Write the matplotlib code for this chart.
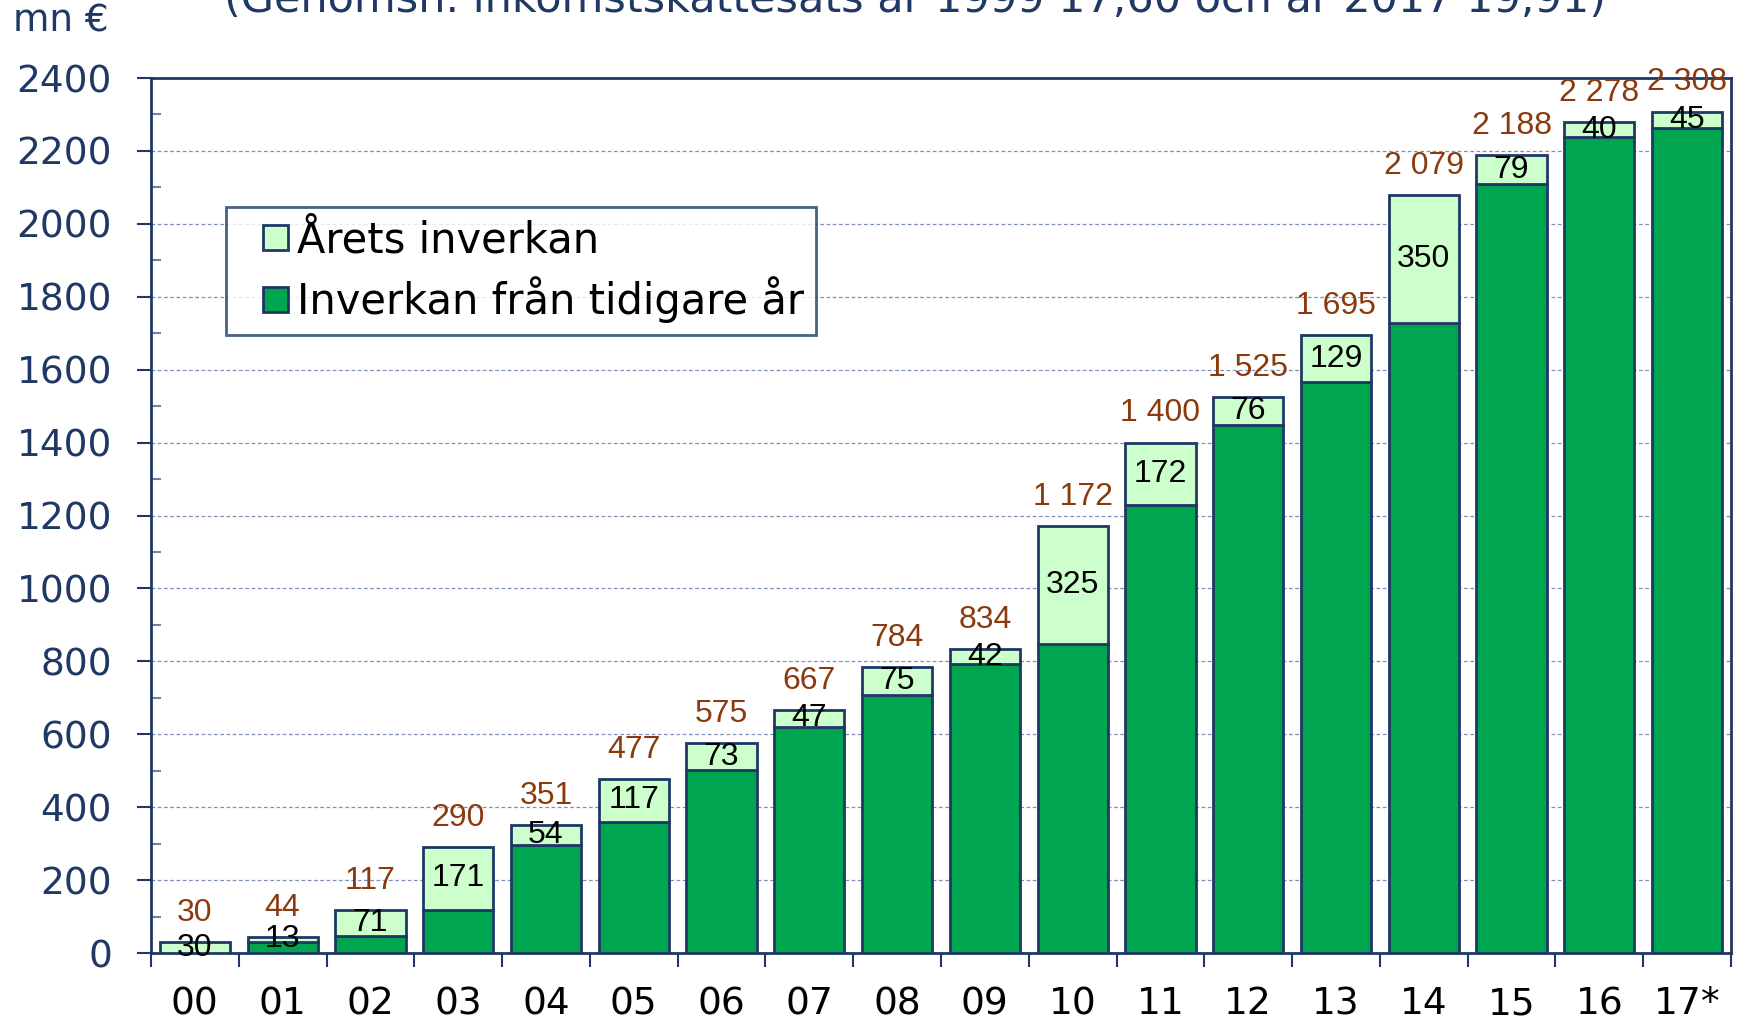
import numpy as np
import matplotlib.pyplot as plt
from matplotlib.ticker import MultipleLocator, FixedLocator
from matplotlib.legend_handler import HandlerPatch
from matplotlib.patches import Rectangle

years = ["00", "01", "02", "03", "04", "05", "06", "07", "08", "09",
         "10", "11", "12", "13", "14", "15", "16", "17*"]
totals = [30, 44, 117, 290, 351, 477, 575, 667, 784, 834,
          1172, 1400, 1525, 1695, 2079, 2188, 2278, 2308]
arets = [30, 13, 71, 171, 54, 117, 73, 47, 75, 42,
         325, 172, 76, 129, 350, 79, 40, 45]
tidigare = [t - a for t, a in zip(totals, arets)]

navy = '#1F3864'
dark_green = '#00A54F'
light_green = '#CCFFCC'
brown = '#8B3A0E'

fig = plt.figure(figsize=(17.43, 10.21), dpi=100)
ax = fig.add_axes([0.0866, 0.0666, 0.9065, 0.857])

x = np.arange(len(years))
b1 = ax.bar(x, tidigare, width=0.8, color=dark_green, edgecolor=navy,
            linewidth=2, zorder=3)
b2 = ax.bar(x, arets, width=0.8, bottom=tidigare, color=light_green,
            edgecolor=navy, linewidth=2, zorder=3)

def fmt(v):
    return f"{v:,}".replace(",", " ")

for i in range(len(years)):
    ax.text(x[i], tidigare[i] + arets[i] / 2, str(arets[i]), ha='center', va='center',
            fontsize=23, family=['Liberation Sans', 'DejaVu Sans'], color='black', zorder=4)
    ax.annotate(fmt(totals[i]), (x[i], totals[i]), xytext=(0, 21), textcoords='offset points',
                ha='center', va='center', fontsize=23, color=brown,
                family=['Liberation Sans', 'DejaVu Sans'], zorder=4)

ax.set_xlim(-0.5, len(years) - 0.5)
ax.set_ylim(0, 2400)
ax.yaxis.set_major_locator(MultipleLocator(200))
ax.yaxis.set_minor_locator(MultipleLocator(100))
ax.grid(axis='y', which='major', color='#7F92B5', linestyle=(0, (3, 2)), linewidth=0.9, zorder=0)

ax.set_xticks(x)
ax.set_xticklabels(years)
ax.xaxis.set_minor_locator(FixedLocator(np.arange(-0.5, len(years), 1.0)))
ax.tick_params(axis='x', which='major', length=0, pad=24, labelsize=27, labelcolor='black')
ax.tick_params(axis='x', which='minor', length=10, width=1.5, color=navy, direction='out')
ax.tick_params(axis='y', which='major', length=10, width=1.5, color=navy, direction='out',
               pad=18, labelsize=27, labelcolor=navy)
ax.tick_params(axis='y', which='minor', length=7, width=1.5, color='#6E84AA', direction='in')

for s in ax.spines.values():
    s.set_color(navy)
    s.set_linewidth(2)


# small square legend key sitting at the right of the handle box
def square_key(legend, orig_handle, xdescent, ydescent, width, height, fontsize):
    s = 0.6 * fontsize
    return Rectangle((-xdescent + width - s, -ydescent + (height - s) / 2), s, s)


key = HandlerPatch(patch_func=square_key)
leg = ax.legend([b2[0], b1[0]], ['Årets inverkan', 'Inverkan från tidigare år'],
                loc='upper left', bbox_to_anchor=(0.0475, 0.8526),
                fontsize=30, frameon=True, fancybox=False, handlelength=1.2, handleheight=0.7,
                handletextpad=0.2, borderpad=0.3, labelspacing=0.35, borderaxespad=0,
                handler_map={Rectangle: key})
leg.get_frame().set_edgecolor(navy)
leg.get_frame().set_linewidth(2)
leg.set_zorder(5)

fig.text(0.0075, 0.969, "mn €", fontsize=27, color=navy, ha='left', va='baseline')
fig.text(0.525, 0.988, "(Genomsn. inkomstskattesats år 1999 17,60 och år 2017 19,91)",
         fontsize=31, color=navy, ha='center', va='baseline')

fig.savefig('out.png', dpi=100)
